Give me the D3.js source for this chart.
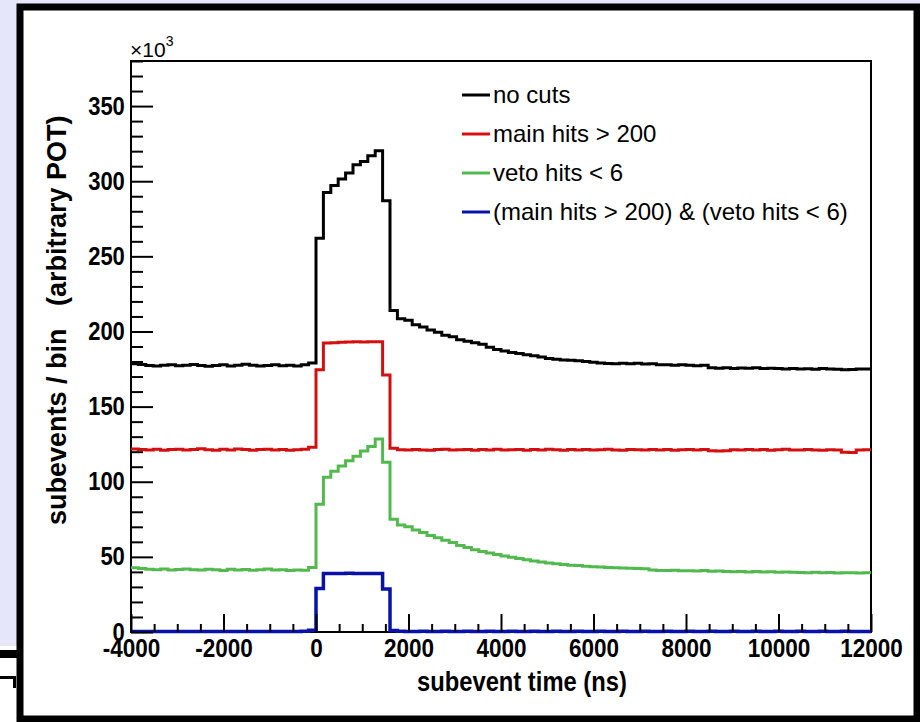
<!DOCTYPE html>
<html>
<head>
<meta charset="utf-8">
<script src="https://cdn.jsdelivr.net/npm/d3@7"></script>
<style>
  body { margin: 0; background: #ffffff; }
  svg { display: block; font-family: "Liberation Sans", Arial, Helvetica, sans-serif; }
</style>
</head>
<body>
<div id="chart-container"></div>
<script>
// Histogram binning: 100 bins of 160 ns from -4000 to 12000 ns
const histMin = -4000;
const histMax = 12000;
const binWidth = 160;

// Bin contents in thousands of subevents, one value per bin
const noCuts = [
    178.5, 178.0, 177.4, 177.0, 177.6, 177.9, 177.2, 177.5, 178.1, 177.3,
    176.9, 177.4, 177.8, 177.0, 177.5, 178.2, 177.6, 177.1, 177.4, 177.9,
    177.2, 177.6, 177.0, 177.8, 179.0,
    262.0, 292.5, 297.2, 301.4, 305.4, 310.9, 313.1, 316.9, 320.2, 287.0,
    214.0, 208.5, 207.5, 204.5, 203.0, 201.0, 199.5, 197.5, 196.5, 194.5,
    193.5, 192.5, 191.5, 189.5, 188.0, 187.0, 186.0, 185.3, 184.5, 183.8,
    183.0, 182.0, 181.5, 181.0, 180.8, 180.5, 180.0, 179.5, 179.0, 178.7,
    178.5, 178.8, 178.5, 178.9, 178.4, 178.6, 177.8, 177.9, 177.5, 177.8,
    177.6, 177.2, 177.5, 175.8, 175.6, 175.9, 175.4, 175.7, 175.5, 175.8,
    175.4, 175.6, 175.3, 175.1, 175.4, 175.0, 175.2, 174.9, 175.3, 175.0,
    174.8, 174.5, 174.7, 175.0, 175.1
];

const mainHits = [
    121.8, 121.5, 121.2, 121.6, 121.0, 121.4, 121.7, 121.1, 121.5, 121.9,
    121.3, 121.0, 121.6, 121.2, 121.8, 121.4, 121.0, 121.5, 121.7, 121.2,
    121.4, 121.0, 121.3, 121.6, 123.0,
    174.5, 192.3, 192.5, 192.8, 193.0, 193.1, 193.0, 193.2, 193.1, 171.0,
    122.3, 121.3, 121.1, 121.5, 121.2, 121.0, 121.4, 121.6, 121.1, 121.3,
    121.5, 121.0, 121.4, 121.2, 121.6, 121.1, 121.3, 121.5, 121.0, 121.4,
    121.2, 121.6, 121.3, 121.0, 121.4, 121.2, 121.5, 121.1, 121.3, 121.6,
    121.2, 121.0, 121.4, 121.3, 121.1, 121.5, 121.2, 121.4, 121.0, 121.3,
    121.5, 121.2, 121.4, 120.6, 120.5, 120.7, 121.3, 121.1, 121.5, 121.2,
    121.4, 121.0, 121.3, 121.6, 121.2, 121.1, 121.4, 121.2, 121.0, 121.3,
    121.2, 119.6, 119.5, 121.2, 121.3
];

const vetoHits = [
    42.8, 42.2, 41.8, 41.5, 41.9, 41.3, 41.6, 42.0, 41.4, 41.2,
    41.7, 41.5, 41.0, 41.8, 41.3, 41.6, 41.1, 41.5, 41.9, 41.2,
    41.4, 41.0, 41.3, 41.1, 43.0,
    85.0, 103.0, 107.0, 110.5, 114.0, 117.0, 120.5, 123.5, 128.5, 113.0,
    75.0, 71.2, 70.0, 67.8, 66.3, 64.2, 62.8, 61.0, 59.6, 57.6,
    56.2, 54.8, 53.6, 52.5, 51.5, 50.6, 49.7, 48.9, 48.1, 47.2,
    46.6, 46.0, 45.4, 44.9, 44.5, 44.2, 43.8, 43.5, 43.3, 43.0,
    42.8, 42.6, 42.4, 42.3, 42.1, 41.2, 41.0, 40.9, 41.1, 40.7,
    40.8, 40.6, 40.9, 40.5, 40.6, 40.2, 40.1, 40.3, 40.0, 40.2,
    39.9, 40.1, 39.8, 40.0, 39.7, 39.6, 39.5, 39.7, 39.4, 39.6,
    39.3, 39.5, 39.4, 39.2, 39.4
];

const bothCuts = [
    0.3, 0.4, 0.3, 0.3, 0.4, 0.3, 0.3, 0.4, 0.3, 0.3,
    0.4, 0.3, 0.3, 0.4, 0.3, 0.3, 0.4, 0.3, 0.3, 0.4,
    0.3, 0.3, 0.4, 0.5, 1.2,
    29.0, 39.0, 39.0, 39.0, 39.1, 39.0, 39.0, 39.0, 39.0, 28.6,
    1.0, 0.5, 0.4, 0.4, 0.5, 0.4, 0.4, 0.5, 0.4, 0.4,
    0.5, 0.4, 0.4, 0.5, 0.4, 0.4, 0.5, 0.4, 0.4, 0.5,
    0.4, 0.4, 0.5, 0.4, 0.4, 0.5, 0.4, 0.4, 0.5, 0.4,
    0.4, 0.5, 0.4, 0.4, 0.5, 0.4, 0.4, 0.5, 0.4, 0.4,
    0.5, 0.4, 0.4, 0.5, 0.4, 0.4, 0.5, 0.4, 0.4, 0.5,
    0.4, 0.4, 0.5, 0.4, 0.4, 0.5, 0.4, 0.4, 0.5, 0.4,
    0.4, 0.5, 0.4, 0.4, 0.4
];

const seriesNames = ["no cuts", "main hits > 200", "veto hits < 6", "(main hits > 200) & (veto hits < 6)"];
const seriesColors = ["#000000", "#d40f0f", "#52b94f", "#0812a8"];
const seriesValues = [noCuts, mainHits, vetoHits, bothCuts];

// Axis ticks
const xMajorTicks = [-4000, -2000, 0, 2000, 4000, 6000, 8000, 10000, 12000];
const yMajorTicks = [0, 50, 100, 150, 200, 250, 300, 350];

const width = 920;
const height = 722;
const margin = { top: 61, right: 49, bottom: 90, left: 131 };

const svg = d3.select("#chart-container")
    .append("svg")
    .attr("width", width)
    .attr("height", height);

// Page decoration around the picture (lavender strip and thick black frame)
svg.append("rect").attr("x", 0).attr("y", 0).attr("width", width).attr("height", 4).attr("fill", "#e6e6fa");
svg.append("rect").attr("x", 0).attr("y", 0).attr("width", 18).attr("height", 646).attr("fill", "#e6e6fa");
svg.append("rect").attr("x", 0).attr("y", 650).attr("width", 20).attr("height", 8).attr("fill", "#000");
svg.append("rect").attr("x", 0).attr("y", 676).attr("width", 16).attr("height", 3).attr("fill", "#000");
svg.append("rect").attr("x", 13).attr("y", 676).attr("width", 3).attr("height", 12).attr("fill", "#000");
svg.append("rect")
    .attr("x", 20).attr("y", 7)
    .attr("width", 897).attr("height", 712)
    .attr("fill", "#ffffff")
    .attr("stroke", "#000")
    .attr("stroke-width", 7);

// Scales
const x = d3.scaleLinear()
    .domain([histMin, histMax])
    .range([margin.left, width - margin.right]);

const y = d3.scaleLinear()
    .domain([0, 380])
    .range([height - margin.bottom, margin.top]);

// Plot frame
svg.append("rect")
    .attr("x", x(histMin))
    .attr("y", y(380))
    .attr("width", x(histMax) - x(histMin))
    .attr("height", y(0) - y(380))
    .attr("fill", "none")
    .attr("stroke", "#000")
    .attr("stroke-width", 2);

// Histograms as step lines
const stepLine = d3.line()
    .x((d) => x(d[0]))
    .y((d) => y(d[1]))
    .curve(d3.curveStepAfter);

seriesValues.forEach((values, i) => {
    const pts = values.map((v, k) => [histMin + k * binWidth, v]);
    pts.push([histMax, values[values.length - 1]]);
    svg.append("path")
        .datum(pts)
        .attr("fill", "none")
        .attr("stroke", seriesColors[i])
        .attr("stroke-width", i === 3 ? 3.5 : 3)
        .attr("stroke-linejoin", "miter")
        .attr("d", stepLine);
});

// plain hyphen minus like the original labels
const plainFormat = (d) => String(d);

// Y axis (ticks inside the frame)
const yMinor = d3.range(0, 381, 10).filter((v) => v % 50 !== 0);
svg.append("g")
    .attr("transform", `translate(${x(histMin)},0)`)
    .call(d3.axisLeft(y).tickValues(yMinor).tickSize(-12).tickFormat(""))
    .call((g) => g.select(".domain").remove());

svg.append("g")
    .attr("transform", `translate(${x(histMin)},0)`)
    .call(d3.axisLeft(y).tickValues(yMajorTicks).tickSize(-22).tickPadding(7).tickFormat(plainFormat))
    .call((g) => g.select(".domain").remove())
    .selectAll("text")
    .attr("transform", "scale(0.88,1)")
    .style("font-size", "25px")
    .style("font-weight", "bold")
    .style("fill", "#000");

// X axis
const xMinor = d3.range(histMin, histMax + 1, 500).filter((v) => v % 2000 !== 0);
svg.append("g")
    .attr("transform", `translate(0,${y(0)})`)
    .call(d3.axisBottom(x).tickValues(xMinor).tickSize(-8).tickFormat(""))
    .call((g) => g.select(".domain").remove());

svg.append("g")
    .attr("transform", `translate(0,${y(0)})`)
    .call(d3.axisBottom(x).tickValues(xMajorTicks).tickSize(-18).tickPadding(7).tickFormat(plainFormat))
    .call((g) => g.select(".domain").remove())
    .selectAll("text")
    .attr("transform", "scale(0.9,1)")
    .style("font-size", "25px")
    .style("font-weight", "bold")
    .style("fill", "#000");

svg.selectAll(".tick line")
    .attr("stroke", "#000")
    .attr("stroke-width", 2);

// Axis titles
svg.append("text")
    .attr("transform", "translate(417,691) scale(0.88,1)")
    .style("font-size", "27px")
    .style("font-weight", "bold")
    .text("subevent time (ns)");

svg.append("text")
    .attr("transform", "translate(66,525) rotate(-90)")
    .style("font-size", "27px")
    .style("font-weight", "bold")
    .style("white-space", "pre")
    .text("subevents / bin   (arbitrary POT)");

// Exponent label
const expo = svg.append("text")
    .attr("x", 130)
    .attr("y", 57)
    .style("font-size", "21px");
expo.append("tspan").text("\u00d710");
expo.append("tspan").attr("dy", -11).style("font-size", "14px").text("3");

// Legend
const legend = svg.append("g").attr("id", "legend");
seriesNames.forEach((name, i) => {
    const ly = 95 + i * 39;
    legend.append("line")
        .attr("x1", 462).attr("x2", 490)
        .attr("y1", ly).attr("y2", ly)
        .attr("stroke", seriesColors[i])
        .attr("stroke-width", 3);
    legend.append("text")
        .attr("x", 493)
        .attr("y", ly + 8)
        .style("font-size", "24px")
        .text(name);
});
</script>
</body>
</html>
